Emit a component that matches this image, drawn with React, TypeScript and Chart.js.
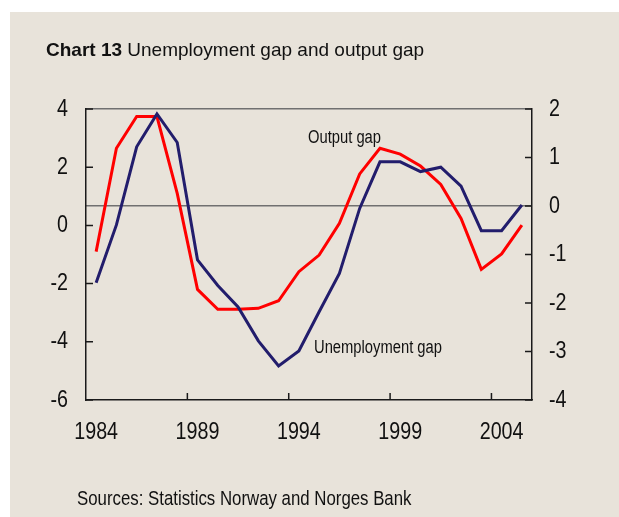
import React, { useEffect, useRef } from "react";
import { Chart, registerables } from "chart.js";

Chart.register(...registerables);

const years = [
  "1984", "1985", "1986", "1987", "1988", "1989", "1990", "1991", "1992", "1993", "1994",
  "1995", "1996", "1997", "1998", "1999", "2000", "2001", "2002", "2003", "2004", "2005",
];
const labeledYears = ["1984", "1989", "1994", "1999", "2004"];

// Output gap, left axis
const outputGap = [
  -0.9, 2.65, 3.74, 3.74, 1.1, -2.2, -2.88, -2.88, -2.85, -2.59, -1.59,
  -1.02, 0.07, 1.77, 2.65, 2.45, 2.04, 1.41, 0.24, -1.51, -0.98, 0.01,
];
// Unemployment gap, right axis
const unemploymentGap = [
  -1.58, -0.39, 1.22, 1.9, 1.31, -1.11, -1.64, -2.08, -2.78, -3.3, -2.99,
  -2.18, -1.39, -0.05, 0.91, 0.91, 0.71, 0.8, 0.41, -0.51, -0.51, 0.02,
];

const leftMin = -6;
const leftMax = 4;
const leftStep = 2;
const rightMin = -4;
const rightMax = 2;
const rightStep = 1;

const SANS = '"Liberation Sans", Arial, sans-serif';
const NARROW_X = 0.82; // horizontal squeeze to mimic Arial Narrow
const TICK_SIZE = 24;
const BG = "#e8e3da";
const RED = "#ff0000";
const BLUE = "#221d6c";
const AXIS = "#1a1a1a";
const GREY = "#707070";
const TEXT = "#111111";

const drawNarrow = (ctx: CanvasRenderingContext2D, s: string, x: number, y: number, align: CanvasTextAlign) => {
  ctx.save();
  ctx.translate(x, y);
  ctx.scale(NARROW_X, 1);
  ctx.textAlign = align;
  ctx.textBaseline = "middle";
  ctx.fillText(s, 0, 0);
  ctx.restore();
};

const axisDecor = {
  id: "axisDecor",
  afterDatasetsDraw(chart: any) {
    const { ctx, chartArea } = chart;
    const x = chart.scales.x;
    const y = chart.scales.y;
    const y1 = chart.scales.y1;
    const len = 7;
    const half = (x.getPixelForValue(1) - x.getPixelForValue(0)) / 2;
    ctx.save();
    // inward tick marks
    ctx.strokeStyle = AXIS;
    ctx.lineWidth = 1.5;
    ctx.beginPath();
    y.ticks.forEach((t: any) => {
      const py = y.getPixelForValue(t.value);
      ctx.moveTo(chartArea.left, py);
      ctx.lineTo(chartArea.left + len, py);
    });
    y1.ticks.forEach((t: any) => {
      const py = y1.getPixelForValue(t.value);
      ctx.moveTo(chartArea.right - len, py);
      ctx.lineTo(chartArea.right, py);
    });
    years.forEach((yr, i) => {
      if (labeledYears.includes(yr) && i > 0) {
        const px = x.getPixelForValue(i) - half;
        ctx.moveTo(px, chartArea.bottom);
        ctx.lineTo(px, chartArea.bottom - len);
      }
    });
    ctx.stroke();
    // condensed tick labels
    ctx.fillStyle = TEXT;
    ctx.font = `${TICK_SIZE}px ${SANS}`;
    y.ticks.forEach((t: any) => {
      drawNarrow(ctx, String(t.label), chartArea.left - 18, y.getPixelForValue(t.value), "right");
    });
    y1.ticks.forEach((t: any) => {
      drawNarrow(ctx, String(t.label), chartArea.right + 17, y1.getPixelForValue(t.value), "left");
    });
    years.forEach((yr, i) => {
      if (labeledYears.includes(yr)) {
        drawNarrow(ctx, yr, x.getPixelForValue(i), chartArea.bottom + 32.5, "center");
      }
    });
    ctx.restore();
  },
};

export default function App() {
  const ref = useRef<HTMLCanvasElement | null>(null);

  useEffect(() => {
    if (!ref.current) return;
    const hidden = "rgba(0,0,0,0)";
    const chart = new Chart(ref.current, {
      type: "line",
      data: {
        labels: years,
        datasets: [
          {
            label: "Unemployment gap",
            data: unemploymentGap,
            borderColor: BLUE,
            borderWidth: 3,
            pointRadius: 0,
            tension: 0,
            yAxisID: "y1",
          },
          {
            label: "Output gap",
            data: outputGap,
            borderColor: RED,
            borderWidth: 3,
            pointRadius: 0,
            tension: 0,
            yAxisID: "y",
          },
        ],
      },
      options: {
        animation: false,
        responsive: false,
        events: [],
        layout: { padding: { top: 97, left: 0, right: 0, bottom: 0 } },
        plugins: {
          legend: { display: false },
          tooltip: { enabled: false },
          title: { display: false },
        },
        scales: {
          x: {
            type: "category",
            offset: true,
            grid: { display: false, drawTicks: false, offset: true },
            border: { display: true, color: AXIS, width: 1.5 },
            ticks: {
              autoSkip: false,
              maxRotation: 0,
              padding: 19,
              color: hidden,
              font: { family: SANS, size: 20 },
              callback: (_v: any, i: number) => (labeledYears.includes(years[i]) ? years[i] : ""),
            },
            afterFit: (s: any) => {
              s.height = 117;
            },
          },
          y: {
            position: "left",
            min: leftMin,
            max: leftMax,
            grid: { display: false, drawTicks: false },
            border: { display: true, color: AXIS, width: 1.5 },
            ticks: {
              stepSize: leftStep,
              padding: 18,
              color: hidden,
              font: { family: SANS, size: 20 },
            },
            afterFit: (s: any) => {
              s.width = 76;
            },
          },
          y1: {
            position: "right",
            min: rightMin,
            max: rightMax,
            grid: {
              display: true,
              drawTicks: false,
              lineWidth: 1.5,
              color: (c: any) =>
                c.tick && (c.tick.value === 0 || c.tick.value === rightMax) ? GREY : hidden,
            },
            border: { display: true, color: AXIS, width: 1.5 },
            ticks: {
              stepSize: rightStep,
              padding: 17,
              color: hidden,
              font: { family: SANS, size: 20 },
            },
            afterFit: (s: any) => {
              s.width = 87;
            },
          },
        },
      },
      plugins: [axisDecor],
    });
    return () => chart.destroy();
  }, []);

  const text = (style: React.CSSProperties, children: React.ReactNode, narrow = true) => (
    <div
      style={{
        position: "absolute",
        whiteSpace: "nowrap",
        lineHeight: 1,
        color: TEXT,
        fontFamily: SANS,
        transformOrigin: "0 0",
        transform: narrow ? `scaleX(${NARROW_X})` : undefined,
        ...style,
      }}
    >
      {children}
    </div>
  );

  return (
    <div
      style={{
        position: "absolute",
        left: 10,
        top: 12,
        width: 609,
        height: 505,
        background: BG,
        overflow: "hidden",
      }}
    >
      <canvas ref={ref} width={609} height={505} style={{ position: "absolute", left: 0, top: 0 }} />
      {text(
        { left: 36, top: 28, fontSize: 19 },
        <>
          <b>Chart 13</b> Unemployment gap and output gap
        </>,
        false
      )}
      {text({ left: 297.5, top: 115.5, fontSize: 18 }, "Output gap")}
      {text({ left: 304, top: 325.7, fontSize: 18 }, "Unemployment gap")}
      {text({ left: 66.5, top: 475.6, fontSize: 20.5 }, "Sources: Statistics Norway and Norges Bank")}
    </div>
  );
}
